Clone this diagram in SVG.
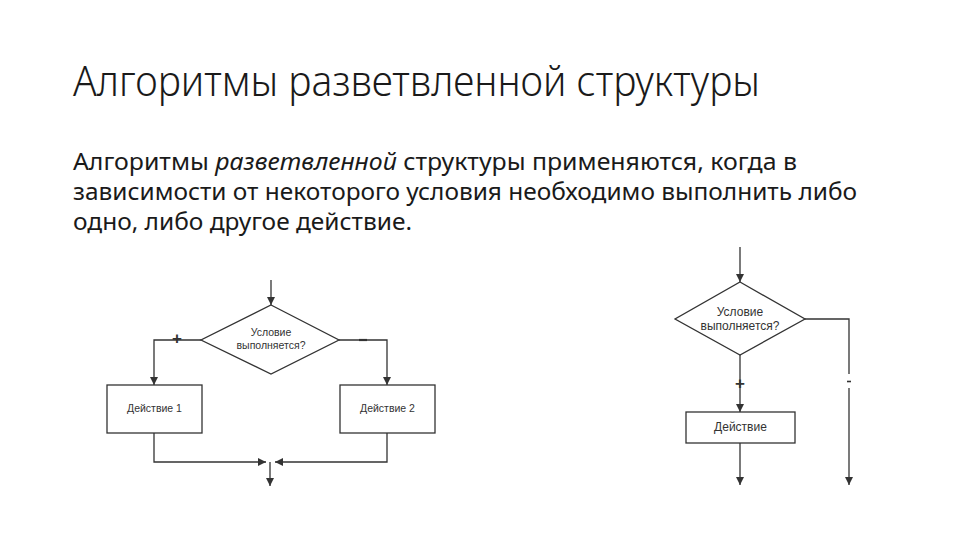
<svg xmlns="http://www.w3.org/2000/svg" width="960" height="540" viewBox="0 0 960 540">
<defs>
<style>
.title{font-family:"Noto Sans","Open Sans",sans-serif;font-size:42px;font-weight:300;fill:#1a1a1a}
.body{font-family:"Noto Sans","Open Sans",sans-serif;font-size:24px;fill:#1a1a1a}
.lbl{font-family:"Liberation Sans",Arial,sans-serif;fill:#333;text-anchor:middle}
.shape{fill:#fff;stroke:#333;stroke-width:1.3}
.ln{fill:none;stroke:#333;stroke-width:1.3}
.sign{font-family:"Liberation Sans",Arial,sans-serif;font-weight:bold;fill:#333;text-anchor:middle}
</style>
<marker id="ah" viewBox="0 0 10 10" refX="10" refY="5" markerWidth="8" markerHeight="8" markerUnits="userSpaceOnUse" orient="auto">
<path d="M0,0 L10,5 L0,10 z" fill="#333"/>
</marker>
</defs>
<rect width="960" height="540" fill="#fff"/>
<text class="title" x="73" y="96" textLength="687" lengthAdjust="spacingAndGlyphs">Алгоритмы разветвленной структуры</text>
<text class="body" x="73" y="170" textLength="724" lengthAdjust="spacingAndGlyphs">Алгоритмы <tspan font-style="italic">разветвленной</tspan> структуры применяются, когда в</text>
<text class="body" x="73" y="200" textLength="784" lengthAdjust="spacingAndGlyphs">зависимости от некоторого условия необходимо выполнить либо</text>
<text class="body" x="73" y="230" textLength="339" lengthAdjust="spacingAndGlyphs">одно, либо другое действие.</text>

<g id="connectors">
<!-- left diagram -->
<line class="ln" x1="271" y1="280" x2="271" y2="305" marker-end="url(#ah)"/>
<polyline class="ln" points="201,340 154,340 154,385" marker-end="url(#ah)"/>
<polyline class="ln" points="339,340 387,340 387,385" marker-end="url(#ah)"/>
<polyline class="ln" points="154,433 154,462 266,462" marker-end="url(#ah)"/>
<polyline class="ln" points="387,433 387,462 275,462" marker-end="url(#ah)"/>
<line class="ln" x1="270" y1="462" x2="270" y2="486" marker-end="url(#ah)"/>
<!-- right diagram -->
<line class="ln" x1="740" y1="247" x2="740" y2="282" marker-end="url(#ah)"/>
<line class="ln" x1="740" y1="355" x2="740" y2="412" marker-end="url(#ah)"/>
<line class="ln" x1="740" y1="443" x2="740" y2="485" marker-end="url(#ah)"/>
<polyline class="ln" points="805,319 849,319 849,374"/>
<line class="ln" x1="849" y1="388" x2="849" y2="485" marker-end="url(#ah)"/>
</g>

<g id="signs">
<text class="sign" x="177" y="344" font-size="17">+</text>
<line x1="359" y1="340" x2="367" y2="340" stroke="#333" stroke-width="2.2"/>
<text class="sign" x="740" y="389" font-size="17">+</text>
<line x1="847" y1="381.5" x2="851" y2="381.5" stroke="#333" stroke-width="1.6"/>
</g>

<g id="cond1">
<polygon class="shape" points="271,305 339,340 271,374 201,340"/>
<text class="lbl" x="271" y="336" font-size="10.5">Условие</text>
<text class="lbl" x="271" y="348.5" font-size="10.5">выполняется?</text>
</g>
<g id="action1">
<rect class="shape" x="107" y="385" width="95" height="48"/>
<text class="lbl" x="154.5" y="412" font-size="10.5">Действие 1</text>
</g>
<g id="action2">
<rect class="shape" x="340" y="385" width="95" height="48"/>
<text class="lbl" x="387.5" y="412" font-size="10.5">Действие 2</text>
</g>

<g id="cond2">
<polygon class="shape" points="740,282 805,319 740,355 675,319"/>
<text class="lbl" x="740" y="316" font-size="12">Условие</text>
<text class="lbl" x="740" y="330" font-size="12">выполняется?</text>
</g>
<g id="action3">
<rect class="shape" x="686" y="412" width="109" height="31"/>
<text class="lbl" x="740.5" y="431" font-size="12">Действие</text>
</g>
</svg>
